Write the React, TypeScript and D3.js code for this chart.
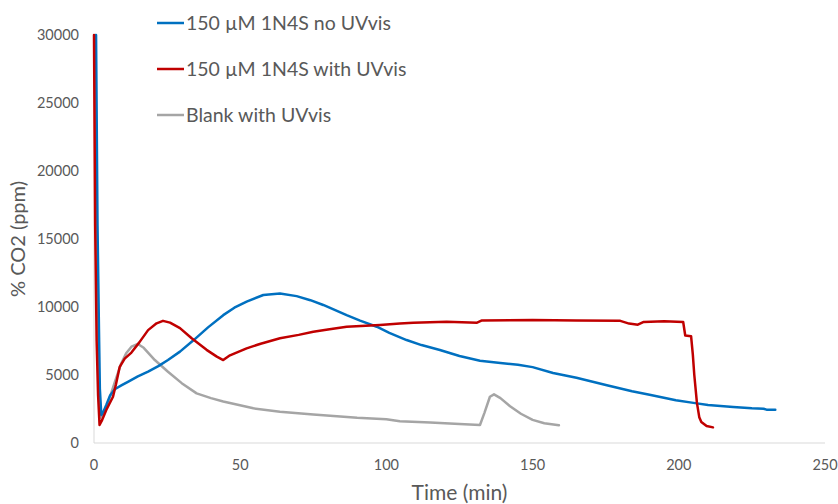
import React from 'react';
import * as d3 from 'd3';

// series values: [time (min), CO2 (ppm)]
const blueNoUV: [number, number][] = [
  [0.7, 30000], [1.2, 16000], [1.7, 8300], [2.0, 4000], [2.5, 2060], [3.2, 2300],
  [4.2, 2800], [5.5, 3500], [7.1, 3950], [9.5, 4250], [11.6, 4500], [15, 4900],
  [18.5, 5250], [22, 5650], [25.3, 6100], [29.4, 6720], [34, 7550], [39, 8500],
  [44.2, 9400], [48, 9950], [52.2, 10400], [57.9, 10880], [63.6, 11000], [69.3, 10800],
  [74, 10500], [78.4, 10150], [86.4, 9400], [91, 9000], [96.7, 8550], [101, 8100],
  [106.9, 7570], [112, 7200], [118.3, 6840], [125, 6400], [132, 6050], [139, 5880],
  [145, 5750], [150, 5580], [157, 5150], [165, 4800], [175.4, 4250], [184, 3800],
  [190, 3550], [199, 3150], [205, 2950], [210, 2800], [218.6, 2650], [225, 2550],
  [229, 2520], [230, 2450], [233, 2450],
];

const redUV: [number, number][] = [
  [0, 30000], [0.4, 16000], [0.9, 7500], [1.4, 3500], [1.9, 1320], [2.8, 1700],
  [4.2, 2430], [6.5, 3400], [7.5, 4300], [8.8, 5600], [10.5, 6200], [12.8, 6650],
  [15.5, 7400], [18.5, 8300], [21.4, 8800], [23.6, 8980], [26, 8850], [29.4, 8450],
  [33.4, 7700], [38.5, 6850], [42, 6350], [44.2, 6100], [46.5, 6450], [52.2, 6960],
  [57, 7300], [63.6, 7700], [70, 7950], [75, 8180], [80, 8350], [86.4, 8550],
  [97.8, 8680], [104.6, 8780], [109.2, 8850], [120.6, 8920], [131, 8850], [132.5, 9000],
  [150, 9050], [165, 9000], [180, 8980], [183, 8780], [186, 8700], [188, 8900],
  [195, 8950], [201.5, 8900], [202.2, 7900], [204.2, 7850], [204.8, 6500], [205.3, 5000],
  [206.2, 2950], [207, 1900], [207.7, 1550], [209.5, 1250], [211.7, 1150],
];

const greyBlank: [number, number][] = [
  [0.4, 30000], [0.8, 15000], [1.2, 7000], [1.8, 3500], [2.3, 1840], [3.3, 2200],
  [4.8, 2950], [7, 4400], [9.3, 5850], [11, 6600], [12.8, 7080], [15, 7280],
  [17, 7000], [20.8, 6100], [25.3, 5240], [30, 4400], [35.1, 3650], [40, 3300],
  [44.2, 3050], [54.5, 2550], [63.6, 2300], [75, 2100], [90, 1850], [100, 1750],
  [104.6, 1600], [115, 1500], [125, 1400], [132, 1320], [133.5, 2200], [135.4, 3400],
  [136.8, 3580], [139, 3300], [142.3, 2700], [146, 2150], [150, 1700], [154, 1450],
  [159, 1300],
];

const xTicks = [0, 50, 100, 150, 200, 250];
const yTicks = [0, 5000, 10000, 15000, 20000, 25000, 30000];

const seriesNames = ['150 µM 1N4S no UVvis', '150 µM 1N4S with UVvis', 'Blank with UVvis'];
const seriesColors = ['#0070C0', '#C00000', '#A5A5A5'];
const seriesData = [blueNoUV, redUV, greyBlank];

const W = 838;
const H = 504;
const font = 'Lato, "Open Sans", sans-serif';

const App = () => {
  const x = d3.scaleLinear().domain([0, 250]).range([94, 825]);
  const y = d3.scaleLinear().domain([0, 30000]).range([443, 35]);

  const myLine = d3.line<[number, number]>()
    .x(d => x(d[0]))
    .y(d => y(d[1]));

  // draw order: grey below, then blue, red on top near the start
  const order = [2, 0, 1];

  return (
    <svg width={W} height={H} style={{position: 'absolute', left: 0, top: 0, background: '#fff'}}>
      {/* axis lines */}
      <line x1={x(0)} x2={x(0)} y1={y(0)} y2={y(30000)} stroke="#d9d9d9" strokeWidth={1}/>
      <line x1={x(0)} x2={x(250)} y1={y(0)} y2={y(0)} stroke="#d9d9d9" strokeWidth={1}/>

      {yTicks.map(t => (
        <text key={'y' + t} x={79} y={y(t)} dy="0.35em" textAnchor="end"
          fontFamily={font} fontSize={14.5} fill="#595959">{t}</text>
      ))}
      {xTicks.map(t => (
        <text key={'x' + t} x={x(t)} y={465} dy="0.35em" textAnchor="middle"
          fontFamily={font} fontSize={14.5} fill="#595959">{t}</text>
      ))}

      <text x={(x(0) + x(250)) / 2} y={500} textAnchor="middle"
        fontFamily={font} fontSize={21} fill="#595959">Time (min)</text>
      <text transform={`translate(25,${(y(0) + y(30000)) / 2}) rotate(-90)`} textAnchor="middle"
        fontFamily={font} fontSize={20} fill="#595959">% CO2 (ppm)</text>

      {order.map(i => (
        <path key={'s' + i} d={myLine(seriesData[i]) || ''} fill="none"
          stroke={seriesColors[i]} strokeWidth={2.5} strokeLinejoin="round" strokeLinecap="round"/>
      ))}

      {seriesNames.map((name, i) => (
        <g key={'l' + i} transform={`translate(157,${23 + i * 46})`}>
          <line x1={0} x2={27} y1={0} y2={0} stroke={seriesColors[i]} strokeWidth={2.5}/>
          <text x={29} y={0} dy="0.35em" fontFamily={font} fontSize={19.5} fill="#595959">{name}</text>
        </g>
      ))}
    </svg>
  );
};

export default App;
